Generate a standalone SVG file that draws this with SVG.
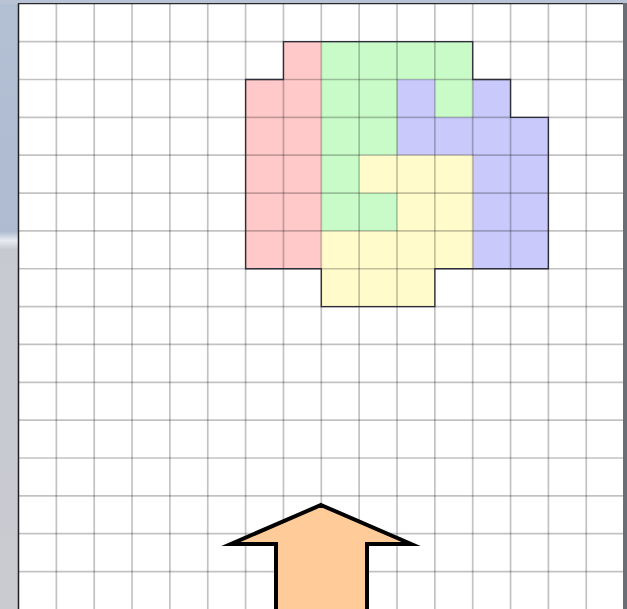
<svg xmlns="http://www.w3.org/2000/svg" width="627" height="609" viewBox="0 0 627 609">
<defs>
<linearGradient id="side" x1="0" y1="0" x2="0" y2="1">
<stop offset="0" stop-color="#b3c0d4"/>
<stop offset="0.38" stop-color="#aebbd0"/>
<stop offset="0.395" stop-color="#e8ecf2"/>
<stop offset="0.41" stop-color="#c6c9d0"/>
<stop offset="1" stop-color="#c9cbd1"/>
</linearGradient>
<style>
.grid line{stroke:#000;stroke-opacity:0.24;stroke-width:1.7}
.region{stroke:none}
</style>
</defs>
<rect x="0" y="0" width="627" height="609" fill="url(#side)"/>
<rect x="0" y="0" width="627" height="4" fill="#b8c3d5"/>
<rect x="18.5" y="3.8" width="605.6" height="606" fill="#ffffff"/>
<g id="regions">
<polygon id="red" class="region" fill="#ffc9c9" points="283.45,41.65 321.3,41.65 321.3,268.75 245.6,268.75 245.6,79.5 283.45,79.5"/>
<polygon id="green" class="region" fill="#c8fbc8" points="321.3,41.65 472.7,41.65 472.7,117.35 434.85,117.35 434.85,79.5 397,79.5 397,155.2 359.15,155.2 359.15,193.05 397,193.05 397,230.9 321.3,230.9"/>
<polygon id="blue" class="region" fill="#c9c9fb" points="397,79.5 434.85,79.5 434.85,117.35 472.7,117.35 472.7,79.5 510.55,79.5 510.55,117.35 548.4,117.35 548.4,268.75 472.7,268.75 472.7,155.2 397,155.2"/>
<polygon id="yellow" class="region" fill="#fffbca" points="359.15,155.2 472.7,155.2 472.7,268.75 434.85,268.75 434.85,306.6 321.3,306.6 321.3,230.9 397,230.9 397,193.05 359.15,193.05"/>
</g>
<g class="grid">
<line x1="56.35" y1="4" x2="56.35" y2="609"/>
<line x1="94.2" y1="4" x2="94.2" y2="609"/>
<line x1="132.05" y1="4" x2="132.05" y2="609"/>
<line x1="169.9" y1="4" x2="169.9" y2="609"/>
<line x1="207.75" y1="4" x2="207.75" y2="609"/>
<line x1="245.6" y1="4" x2="245.6" y2="609"/>
<line x1="283.45" y1="4" x2="283.45" y2="609"/>
<line x1="321.3" y1="4" x2="321.3" y2="609"/>
<line x1="359.15" y1="4" x2="359.15" y2="609"/>
<line x1="397" y1="4" x2="397" y2="609"/>
<line x1="434.85" y1="4" x2="434.85" y2="609"/>
<line x1="472.7" y1="4" x2="472.7" y2="609"/>
<line x1="510.55" y1="4" x2="510.55" y2="609"/>
<line x1="548.4" y1="4" x2="548.4" y2="609"/>
<line x1="586.25" y1="4" x2="586.25" y2="609"/>
<line x1="18.5" y1="41.65" x2="624" y2="41.65"/>
<line x1="18.5" y1="79.5" x2="624" y2="79.5"/>
<line x1="18.5" y1="117.35" x2="624" y2="117.35"/>
<line x1="18.5" y1="155.2" x2="624" y2="155.2"/>
<line x1="18.5" y1="193.05" x2="624" y2="193.05"/>
<line x1="18.5" y1="230.9" x2="624" y2="230.9"/>
<line x1="18.5" y1="268.75" x2="624" y2="268.75"/>
<line x1="18.5" y1="306.6" x2="624" y2="306.6"/>
<line x1="18.5" y1="344.45" x2="624" y2="344.45"/>
<line x1="18.5" y1="382.3" x2="624" y2="382.3"/>
<line x1="18.5" y1="420.15" x2="624" y2="420.15"/>
<line x1="18.5" y1="458" x2="624" y2="458"/>
<line x1="18.5" y1="495.85" x2="624" y2="495.85"/>
<line x1="18.5" y1="533.7" x2="624" y2="533.7"/>
<line x1="18.5" y1="571.55" x2="624" y2="571.55"/>
</g>
<polygon id="outline" fill="none" stroke="#2e2e3a" stroke-width="1.3" points="283.45,41.65 472.7,41.65 472.7,79.5 510.55,79.5 510.55,117.35 548.4,117.35 548.4,268.75 434.85,268.75 434.85,306.6 321.3,306.6 321.3,268.75 245.6,268.75 245.6,79.5 283.45,79.5"/>
<g id="frame">
<line x1="18.5" y1="3.5" x2="18.5" y2="609" stroke="#1e1e1e" stroke-width="1.5"/>
<line x1="18" y1="3.6" x2="624" y2="3.6" stroke="#2a2a2a" stroke-width="1.3"/>
<rect x="623" y="3" width="4" height="606" fill="#6b6e74"/>
</g>
<g id="arrow">
<polygon points="321,505 411,544 367,544 367,615 276,615 276,544 231,544" fill="#ffcc99" stroke="#000" stroke-width="4" stroke-linejoin="miter" stroke-miterlimit="6"/>
</g>
</svg>
